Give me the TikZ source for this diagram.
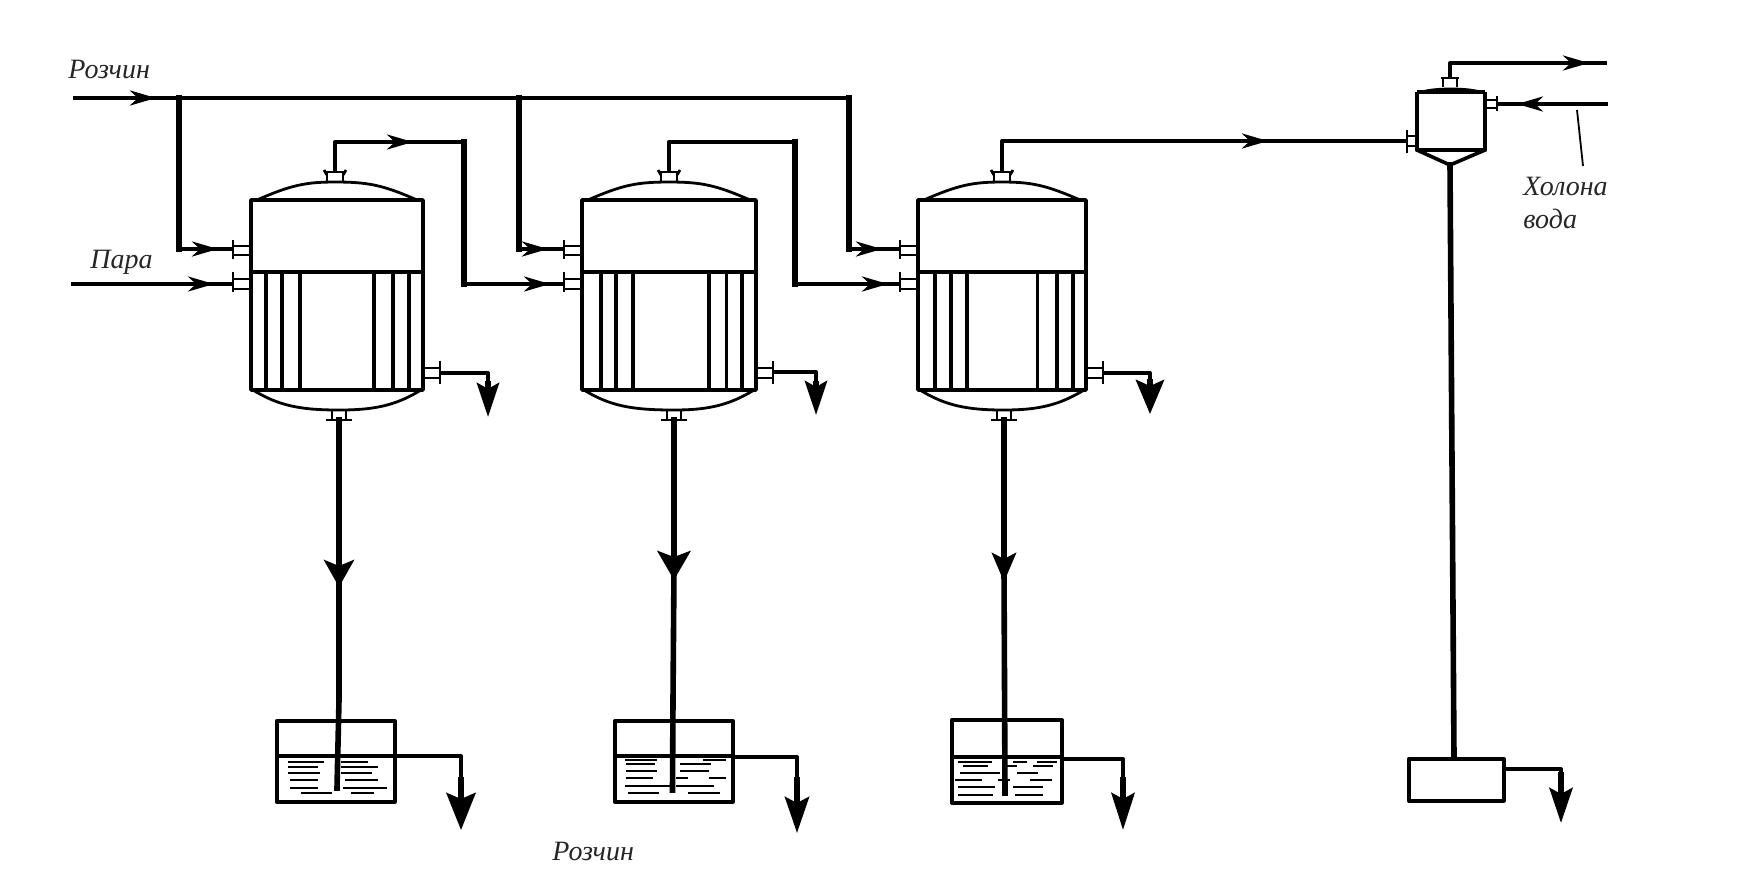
\documentclass[tikz,border=0pt]{standalone}
\usepackage{fontspec}
\setmainfont{Liberation Serif}
\usetikzlibrary{arrows.meta}
\tikzset{
  pipe/.style={line width=2pt,line join=round,draw=black},
  thickpipe/.style={line width=2.8pt,line join=round,line cap=rect,draw=black},
  thinpipe/.style={line width=1.6pt,line join=round,draw=black},
  wall/.style={line width=1.8pt,line join=round,draw=black},
  tube/.style={line width=1.6pt,draw=black},
  fitting/.style={line width=1.2pt,draw=black},
  flange/.style={line width=1.4pt,draw=black},
  water/.style={line width=0.8pt,draw=black},
  leader/.style={line width=0.9pt,draw=black},
  lbl/.style={font=\fontsize{14}{16.5}\selectfont\itshape,text=black!85,inner sep=0pt},
  flowtip/.style={-{Stealth[length=13pt,width=7.5pt,inset=4pt]}},
  droptip/.style={-{Stealth[length=17pt,width=11pt,inset=3pt]}}
}
% id, left, right, top nozzle x, bottom nozzle x, outlet y, tube list
\newcommand{\evaporator}[7]{%
  \draw[wall] (#2,200) rectangle (#3,390);
  \draw[wall,line width=1.6pt] (#2,272) -- (#3,272);
  \draw[wall,line width=1.4pt] (#2+6,200) .. controls (#2+40,185) and (#2+55,182) .. (#4,182)
     .. controls (#3-55,182) and (#3-40,185) .. (#3-6,200);
  \draw[wall,line width=1.4pt] (#2+2,390) .. controls (#2+28,406) and (#2+50,410) .. (#5,410)
     .. controls (#3-50,410) and (#3-28,406) .. (#3-2,390);
  \foreach \tx in {#7} {\draw[tube] (\tx,272) -- (\tx,390);}
  % top nozzle
  \draw[fitting] (#4-8,182) -- (#4-8,172) -- (#4+8,172) -- (#4+8,182);
  \draw[flange] (#4-11,170) -- (#4-8,175) (#4+11,170) -- (#4+8,175);
  % bottom nozzle
  \draw[fitting] (#5-7,410) -- (#5-7,420) (#5+7,410) -- (#5+7,420);
  \draw[flange] (#5-13,420) -- (#5+13,420);
  % side inlets
  \draw[fitting] (#2-17,246) -- (#2,246) (#2-17,255) -- (#2,255);
  \draw[fitting] (#2-17,279) -- (#2,279) (#2-17,289) -- (#2,289);
  \draw[flange] (#2-18,240) -- (#2-18,259) (#2-18,272) -- (#2-18,292);
  % side outlet
  \draw[fitting] (#3,368) -- (#3+17,368) (#3,378) -- (#3+17,378);
  \draw[flange] (#3+17,361) -- (#3+17,384);
  \coordinate (#1-in1) at (#2-18,249);
  \coordinate (#1-in2) at (#2-18,284);
  \coordinate (#1-top) at (#4,172);
  \coordinate (#1-bot) at (#5,420);
  \coordinate (#1-side) at (#3+17,#6);
}
\newcommand{\liquid}[1]{\foreach \yy/\xa/\xb in {#1} {\draw[water] (\xa,\yy) -- (\xb,\yy);}}
\begin{document}
\begin{tikzpicture}[x=0.5pt,y=-0.5pt]
\useasboundingbox (0,0) rectangle (1757,880);

\evaporator{e1}{251}{423}{335}{339}{373}{266,282,300,374,393,409}
\evaporator{e2}{582}{756}{669}{674}{372}{601,616,633,709,726.5,742}
\evaporator{e3}{918}{1086}{1002}{1004}{373}{935,951,967,1037.5,1057,1073}

% receivers
\node[draw,wall,inner sep=0pt,minimum width=59pt,minimum height=40.5pt,anchor=north west] (r1) at (275,719) {};
\node[draw,wall,inner sep=0pt,minimum width=59pt,minimum height=40.5pt,anchor=north west] (r2) at (613,719) {};
\node[draw,wall,inner sep=0pt,minimum width=55pt,minimum height=41.5pt,anchor=north west] (r3) at (950,718) {};
\node[draw,wall,inner sep=0pt,minimum width=47.5pt,minimum height=21pt,anchor=north west] (r4) at (1407,757) {};
\draw[wall] (r1.west |- 0,756) -- (r1.east |- 0,756);
\draw[wall] (r2.west |- 0,756) -- (r2.east |- 0,756);
\draw[wall] (r3.west |- 0,757) -- (r3.east |- 0,757);
\liquid{762/288/324,762/341/368,767/288/318,767/341/378,773/288/320,773/341/372,780/290/318,780/345/378,788/290/318,788/343/387,793/301/332,793/351/374}
\liquid{760/625/657,760/703/726,764/626/655,764/680/711,771/626/657,771/680/709,778/626/653,778/676/688,778/709/726,786/625/670,786/676/714,793/628/659,793/688/720}
\liquid{762/958/992,762/1013/1027,762/1037/1057,766/963/988,766/1003/1017,766/1033/1053,773/960/1000,773/1017/1038,780/955/982,780/998/1010,780/1030/1052,787/958/995,787/1013/1043,795/958/993,795/1015/1043}

% condenser
\draw[wall,line width=2.4pt] (1417,92) -- (1417,150) -- (1485,150) -- (1485,92);
\draw[wall] (1417,92) -- (1485,92);
\draw[wall,line width=1.4pt] (1422,92) .. controls (1435,88) and (1467,88) .. (1480,92);
\draw[wall] (1417,150) -- (1450,165) -- (1485,150);
\draw[fitting] (1443,87) -- (1443,78) -- (1457,78) -- (1457,87);
\draw[flange] (1441,78) -- (1459,78);
\draw[fitting] (1485,100) -- (1497,100) (1485,108) -- (1497,108);
\draw[flange] (1497,96) -- (1497,111);
\draw[fitting] (1407,136) -- (1417,136) (1407,146) -- (1417,146);
\draw[flange] (1407,130) -- (1407,153);
\coordinate (c-top) at (1450,78);
\coordinate (c-bot) at (1450,165);
\coordinate (c-in) at (1407,141);
\coordinate (c-water) at (1497,104);

% named points
\coordinate (feed) at (73,98);
\coordinate (feedA) at (156,98);
\coordinate (j1) at (179,98);
\coordinate (j2) at (519,98);
\coordinate (j3) at (849,98);
\coordinate (steam) at (71,284);
\coordinate (steamA) at (214,284);
\coordinate (a11) at (218,249);
\coordinate (a21) at (548,249);
\coordinate (a22) at (550,284);
\coordinate (a31) at (882,249);
\coordinate (a32) at (888,284);
\coordinate (v12) at (413,142);
\coordinate (t12) at (464,142);
\coordinate (v23) at (795,142);
\coordinate (v3c) at (1268,141);
\coordinate (vout) at (1589,63);
\coordinate (vend) at (1607,63);
\coordinate (wsrc) at (1608,104);
\coordinate (wA) at (1517,104);

% solution feed
\draw[pipe,flowtip] (feed) -- (feedA);
\draw[pipe] ([xshift=-6pt]feedA) -- (j1) -- (j2) -- (j3);
\draw[thickpipe] (j1) -- (j1 |- a11);
\draw[pipe,flowtip] (j1 |- a11) -- (a11);
\draw[pipe] ([xshift=-6pt]a11) -- (e1-in1);
\draw[thickpipe] (j2) -- (j2 |- a21);
\draw[pipe,flowtip] (j2 |- a21) -- (a21);
\draw[pipe] ([xshift=-6pt]a21) -- (e2-in1);
\draw[thickpipe] (j3) -- (j3 |- a31);
\draw[pipe,flowtip] (j3 |- a31) -- (a31);
\draw[pipe] ([xshift=-6pt]a31) -- (e3-in1);

% steam
\draw[thinpipe,flowtip] (steam) -- (steamA);
\draw[thinpipe] ([xshift=-6pt]steamA) -- (e1-in2);

% vapour lines
\draw[pipe,flowtip] (e1-top) |- (v12);
\draw[pipe] ([xshift=-6pt]v12) -- (t12);
\draw[thickpipe] (t12) -- (t12 |- a22);
\draw[pipe,flowtip] (t12 |- a22) -- (a22);
\draw[pipe] ([xshift=-6pt]a22) -- (e2-in2);
\draw[pipe] (e2-top) |- (v23);
\draw[thickpipe] (v23) -- (v23 |- a32);
\draw[pipe,flowtip] (v23 |- a32) -- (a32);
\draw[pipe] ([xshift=-6pt]a32) -- (e3-in2);
\draw[pipe,flowtip] (e3-top) |- (v3c);
\draw[thinpipe] ([xshift=-6pt]v3c) -- (c-in);
\draw[pipe,flowtip] (c-top) |- (vout);
\draw[pipe] ([xshift=-6pt]vout) -- (vend);
\draw[pipe,flowtip] (wsrc) -- (wA);
\draw[pipe] ([xshift=6pt]wA) -- (c-water);

% side drains of the evaporators
\coordinate (d1) at (488,417);
\coordinate (d2) at (816,415);
\coordinate (d3) at (1150,414);
\draw[pipe] (e1-side) -| (d1 |- 0,395);
\draw[thickpipe,droptip] (d1 |- 0,384) -- (d1);
\draw[pipe] (e2-side) -| (d2 |- 0,395);
\draw[thickpipe,droptip] (d2 |- 0,384) -- (d2);
\draw[pipe] (e3-side) -| (d3 |- 0,395);
\draw[thickpipe,-{Stealth[length=17pt,width=14pt,inset=3pt]}] (d3 |- 0,382) -- (d3);

% barometric legs
\coordinate (m1) at (339,587);
\coordinate (m2) at (674,580);
\coordinate (m3) at (1004,582);
\draw[thickpipe,-{Stealth[length=13.5pt,width=15pt,inset=3pt]}] (e1-bot) -- (m1);
\draw[thickpipe,-{Stealth[length=14.5pt,width=16.5pt,inset=3pt]}] (e2-bot) -- (m2);
\draw[thickpipe,-{Stealth[length=14.5pt,width=12pt,inset=3pt]}] (e3-bot) -- (m3);
\draw[thickpipe] ([yshift=6pt]m1) -- (339,700) -- (337,788);
\draw[thickpipe] ([yshift=6pt]m2) -- (673,700) -- (672.5,790);
\draw[thickpipe] ([yshift=6pt]m3) -- (1005,793);
\draw[thickpipe] (c-bot) -- (r4.north -| 1454,0);

% overflow lines
\coordinate (o1) at (461,830);
\coordinate (o2) at (797,833);
\coordinate (o3) at (1123,830);
\coordinate (o4) at (1561,823);
\draw[pipe] (r1.east |- 0,756) -| (o1 |- 0,795);
\draw[thickpipe,-{Stealth[length=18.5pt,width=14.5pt,inset=3pt]}] (o1 |- 0,780) -- (o1);
\draw[pipe] (r2.east |- 0,757) -| (o2 |- 0,797);
\draw[thickpipe,-{Stealth[length=18pt,width=12pt,inset=3pt]}] (o2 |- 0,780) -- (o2);
\draw[pipe] (r3.east |- 0,759) -| (o3 |- 0,793);
\draw[thickpipe,-{Stealth[length=18.5pt,width=11.5pt,inset=3pt]}] (o3 |- 0,780) -- (o3);
\draw[pipe] (r4.east |- 0,769) -| (o4 |- 0,790);
\draw[thickpipe,-{Stealth[length=17.5pt,width=11.5pt,inset=3pt]}] (o4 |- 0,775) -- (o4);

% labels
\node[lbl,anchor=base west] (lfeed) at (68,78) {Розчин};
\node[lbl,anchor=base west] (lsteam) at (90,268) {Пара};
\node[lbl,anchor=base west] (lprod) at (552,860) {Розчин};
\node[lbl,anchor=north west,align=left] (lwater) at (1523,177) {Холона\\вода};
\coordinate (lw) at (1577,110);
\coordinate (lw2) at (1583,166);
\draw[leader] (lw) -- (lw2);
\end{tikzpicture}
\end{document}
